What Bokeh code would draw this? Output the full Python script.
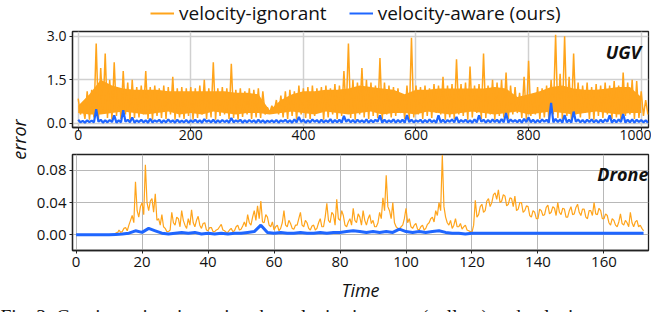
import math
from bokeh.plotting import figure
from bokeh.models import Legend, LegendItem, Range1d, FixedTicker, NumeralTickFormatter, Label
from bokeh.layouts import row, column
from bokeh.embed import file_html
from bokeh.resources import INLINE

ORANGE = "#FFA41B"
BLUE = "#1F66FF"
FONT = "Open Sans"

# ---------------- data ----------------
# UGV, velocity-ignorant: dense band read every 20 time units (top / bottom of the band)
ugv_band_step = 20
ugv_ignorant_band_top = [
    0.6, 1.0, 1.5, 1.3, 1.2, 1.15, 1.15, 1.15, 1.1, 1.1,
    1.1, 1.1, 1.1, 1.1, 1.05, 1.05, 1.0, 0.45, 0.8, 1.0,
    1.1, 1.1, 1.15, 1.15, 1.2, 1.3, 1.25, 1.2, 1.15, 1.0,
    1.15, 1.15, 1.2, 1.2, 1.2, 1.2, 1.2, 1.25, 1.2, 0.9,
    1.0, 1.1, 1.25, 1.3, 1.2, 1.15, 1.15, 1.2, 1.25, 1.25,
    0.9,
]
ugv_ignorant_band_bottom = [
    0.35, 0.3, 0.3, 0.35, 0.4, 0.35, 0.3, 0.35, 0.4, 0.3,
    0.35, 0.3, 0.4, 0.35, 0.3, 0.35, 0.35, 0.3, 0.35, 0.4,
    0.35, 0.3, 0.4, 0.35, 0.3, 0.35, 0.4, 0.3, 0.35, 0.35,
    0.3, 0.4, 0.35, 0.3, 0.35, 0.4, 0.35, 0.3, 0.35, 0.4,
    0.3, 0.35, 0.4, 0.35, 0.3, 0.35, 0.4, 0.35, 0.3, 0.35,
    0.35,
]
# UGV: samples every 8 time units; hi = upper value at t, lo = lower value at t+4
ugv_step = 8
ugv_ignorant_hi = [
    0.85, 0.6, 1.1, 1.15, 2.75, 1.9, 2.4, 1.5, 2.1, 1.2,
    1.8, 1.4, 1.5, 1.25, 1.3, 1.8, 1.25, 1.3, 1.2, 1.3,
    1.25, 1.6, 1.2, 1.25, 1.2, 1.25, 1.2, 1.3, 1.5, 1.2,
    2.1, 1.2, 1.25, 1.2, 2.05, 1.15, 1.2, 1.1, 1.2, 1.15,
    1.2, 1.1, 0.55, 0.6, 0.8, 0.95, 1.1, 1.15, 1.1, 1.3,
    1.2, 1.25, 1.3, 1.2, 1.25, 1.3, 1.2, 1.35, 1.3, 1.8,
    2.75, 1.5, 1.4, 1.9, 1.5, 1.4, 1.3, 2.25, 1.4, 1.3,
    1.25, 1.2, 0.9, 1.3, 2.95, 1.3, 1.25, 1.3, 1.2, 1.35,
    1.3, 1.6, 1.3, 1.35, 2.2, 1.35, 1.4, 1.95, 1.3, 1.35,
    2.4, 1.3, 1.5, 1.4, 1.5, 1.75, 1.3, 1.25, 1.05, 1.6,
    2.15, 1.0, 1.25, 1.2, 1.3, 1.5, 3.05, 1.7, 3.0, 1.6,
    2.4, 1.4, 1.3, 1.4, 1.25, 1.35, 1.3, 1.4, 1.3, 1.45,
    1.3, 1.75, 1.4, 1.5, 1.45, 1.1, 0.8,
]
ugv_ignorant_lo = [
    0.3, 0.15, 0.12, 0.2, 0.15, 0.35, 0.18, 0.12, 0.25, 0.15,
    0.3, 0.12, 0.18, 0.2, 0.3, 0.15, 0.12, 0.25, 0.18, 0.15,
    0.3, 0.12, 0.2, 0.15, 0.25, 0.12, 0.18, 0.3, 0.15, 0.2,
    0.12, 0.25, 0.3, 0.15, 0.18, 0.12, 0.22, 0.3, 0.15, 0.2,
    0.18, 0.3, 0.35, 0.4, 0.3, 0.2, 0.15, 0.25, 0.12, 0.3,
    0.18, 0.15, 0.25, 0.35, 0.12, 0.2, 0.3, 0.15, 0.25, 0.35,
    0.18, 0.12, 0.3, 0.2, 0.15, 0.25, 0.18, 0.12, 0.3, 0.2,
    0.25, 0.35, 0.15, 0.12, 0.2, 0.3, 0.15, 0.25, 0.18, 0.35,
    0.3, 0.12, 0.2, 0.15, 0.3, 0.25, 0.12, 0.2, 0.35, 0.15,
    0.18, 0.3, 0.12, 0.25, 0.2, 0.15, 0.3, 0.35, 0.18, 0.12,
    0.25, 0.3, 0.15, 0.2, 0.12, 0.3, 0.18, 0.15, 0.25, 0.12,
    0.3, 0.2, 0.35, 0.15, 0.12, 0.25, 0.18, 0.3, 0.15, 0.2,
    0.12, 0.25, 0.3, 0.15, 0.18, 0.25, 0.3,
]
ugv_aware_hi = [
    0.12, 0.08, 0.1, 0.09, 0.48, 0.12, 0.1, 0.11, 0.27, 0.1,
    0.45, 0.12, 0.2, 0.1, 0.12, 0.1, 0.15, 0.1, 0.12, 0.1,
    0.13, 0.1, 0.12, 0.09, 0.11, 0.1, 0.12, 0.1, 0.14, 0.1,
    0.12, 0.1, 0.11, 0.1, 0.18, 0.1, 0.12, 0.1, 0.11, 0.1,
    0.12, 0.1, 0.09, 0.1, 0.11, 0.1, 0.12, 0.1, 0.13, 0.22,
    0.12, 0.1, 0.13, 0.11, 0.12, 0.1, 0.14, 0.11, 0.12, 0.25,
    0.13, 0.11, 0.12, 0.1, 0.13, 0.11, 0.12, 0.27, 0.12, 0.1,
    0.13, 0.11, 0.12, 0.28, 0.12, 0.1, 0.12, 0.11, 0.13, 0.1,
    0.27, 0.12, 0.11, 0.13, 0.22, 0.11, 0.12, 0.1, 0.13, 0.27,
    0.12, 0.11, 0.13, 0.12, 0.14, 0.35, 0.13, 0.11, 0.12, 0.15,
    0.2, 0.12, 0.11, 0.13, 0.12, 0.7, 0.15, 0.13, 0.28, 0.12,
    0.4, 0.13, 0.11, 0.12, 0.13, 0.11, 0.12, 0.13, 0.27, 0.12,
    0.13, 0.32, 0.12, 0.13, 0.12, 0.11, 0.1,
]
ugv_aware_lo = [
    0.03, 0.02, 0.04, 0.03, 0.05, 0.02, 0.03, 0.04, 0.02, 0.03,
    0.05, 0.03, 0.02, 0.04, 0.03, 0.02, 0.03, 0.05, 0.02, 0.03,
    0.04, 0.02, 0.03, 0.03, 0.02, 0.04, 0.03, 0.02, 0.05, 0.03,
    0.02, 0.03, 0.04, 0.02, 0.03, 0.05, 0.02, 0.03, 0.04, 0.02,
    0.03, 0.02, 0.04, 0.03, 0.02, 0.05, 0.03, 0.02, 0.03, 0.04,
    0.02, 0.03, 0.05, 0.02, 0.03, 0.04, 0.02, 0.03, 0.02, 0.05,
    0.03, 0.02, 0.04, 0.03, 0.02, 0.03, 0.05, 0.02, 0.03, 0.04,
    0.02, 0.03, 0.02, 0.04, 0.03, 0.05, 0.02, 0.03, 0.04, 0.02,
    0.03, 0.02, 0.05, 0.03, 0.02, 0.04, 0.03, 0.02, 0.03, 0.05,
    0.02, 0.03, 0.04, 0.02, 0.03, 0.02, 0.05, 0.03, 0.02, 0.04,
    0.03, 0.02, 0.03, 0.05, 0.02, 0.03, 0.04, 0.02, 0.03, 0.02,
    0.05, 0.03, 0.02, 0.04, 0.03, 0.02, 0.03, 0.05, 0.02, 0.03,
    0.04, 0.02, 0.03, 0.02, 0.04, 0.03, 0.02,
]

# Drone: velocity-ignorant every 0.5 time units starting at t=12
drone_ign_start = 12
drone_ign_step = 0.5
drone_ignorant = [
    0.003, 0.002, 0.006, 0.003, 0.004, 0.008, 0.009, 0.005, 0.012, 0.018,
    0.024, 0.015, 0.066, 0.03, 0.022, 0.035, 0.04, 0.025, 0.087, 0.04,
    0.03, 0.042, 0.045, 0.028, 0.051, 0.018, 0.02, 0.012, 0.025, 0.01,
    0.008, 0.004, 0.004, 0.006, 0.028, 0.015, 0.012, 0.022, 0.02, 0.01,
    0.03, 0.018, 0.012, 0.008, 0.02, 0.012, 0.031, 0.015, 0.01, 0.018,
    0.023, 0.012, 0.008, 0.014, 0.015, 0.006, 0.005, 0.009, 0.009, 0.004,
    0.004, 0.006, 0.007, 0.01, 0.013, 0.006, 0.005, 0.003, 0.003, 0.006,
    0.008, 0.004, 0.005, 0.01, 0.012, 0.006, 0.007, 0.011, 0.016, 0.01,
    0.025, 0.015, 0.012, 0.022, 0.03, 0.018, 0.036, 0.02, 0.042, 0.016,
    0.015, 0.025, 0.022, 0.012, 0.01, 0.016, 0.006, 0.01, 0.012, 0.005,
    0.008, 0.015, 0.03, 0.012, 0.01, 0.018, 0.014, 0.008, 0.007, 0.012,
    0.012, 0.02, 0.028, 0.012, 0.01, 0.018, 0.015, 0.008, 0.006, 0.011,
    0.012, 0.006, 0.008, 0.015, 0.02, 0.01, 0.01, 0.022, 0.039, 0.018,
    0.015, 0.028, 0.025, 0.012, 0.044, 0.02, 0.018, 0.03, 0.024, 0.012,
    0.01, 0.016, 0.02, 0.012, 0.033, 0.018, 0.015, 0.026, 0.022, 0.012,
    0.03, 0.018, 0.012, 0.02, 0.025, 0.014, 0.018, 0.01, 0.01, 0.015,
    0.028, 0.02, 0.046, 0.03, 0.074, 0.035, 0.03, 0.02, 0.04, 0.015,
    0.01, 0.008, 0.006, 0.01, 0.012, 0.02, 0.033, 0.015, 0.02, 0.01,
    0.008, 0.012, 0.014, 0.007, 0.006, 0.01, 0.012, 0.006, 0.008, 0.013,
    0.015, 0.02, 0.022, 0.016, 0.03, 0.024, 0.04, 0.03, 0.099, 0.035,
    0.022, 0.015, 0.012, 0.018, 0.008, 0.012, 0.02, 0.01, 0.01, 0.014,
    0.007, 0.01, 0.012, 0.006, 0.005, 0.004, 0.003, 0.012, 0.043, 0.022,
    0.025, 0.035, 0.038, 0.028, 0.03, 0.042, 0.045, 0.035, 0.04, 0.05,
    0.052, 0.044, 0.056, 0.04, 0.042, 0.05, 0.048, 0.036, 0.038, 0.046,
    0.045, 0.035, 0.048, 0.03, 0.032, 0.04, 0.04, 0.028, 0.03, 0.036,
    0.035, 0.024, 0.022, 0.03, 0.028, 0.02, 0.02, 0.032, 0.03, 0.024,
    0.025, 0.034, 0.037, 0.026, 0.028, 0.035, 0.033, 0.024, 0.04, 0.028,
    0.025, 0.033, 0.032, 0.022, 0.022, 0.03, 0.035, 0.025, 0.026, 0.034,
    0.038, 0.028, 0.024, 0.032, 0.032, 0.022, 0.02, 0.03, 0.03, 0.024,
    0.04, 0.026, 0.025, 0.033, 0.03, 0.02, 0.02, 0.026, 0.024, 0.015,
    0.012, 0.02, 0.018, 0.012, 0.01, 0.016, 0.026, 0.014, 0.012, 0.018,
    0.015, 0.01, 0.028, 0.015, 0.01, 0.016, 0.018, 0.01, 0.012, 0.008,
    0.005,
]
# Drone: velocity-aware every 2 time units starting at t=0
drone_aw_start = 0
drone_aw_step = 2
drone_aware = [
    0.0, 0.0, 0.0, 0.0, 0.0, 0.0, 0.0005, 0.001, 0.002, 0.005,
    0.003, 0.008, 0.005, 0.002, 0.001, 0.002, 0.003, 0.002, 0.003, 0.001,
    0.002, 0.001, 0.002, 0.001, 0.002, 0.002, 0.003, 0.004, 0.012, 0.003,
    0.002, 0.003, 0.002, 0.002, 0.003, 0.002, 0.002, 0.003, 0.002, 0.003,
    0.003, 0.004, 0.005, 0.004, 0.003, 0.004, 0.003, 0.004, 0.003, 0.007,
    0.004, 0.003, 0.004, 0.003, 0.004, 0.005, 0.003, 0.002, 0.002, 0.001,
    0.002, 0.002, 0.002, 0.002, 0.002, 0.002, 0.002, 0.002, 0.002, 0.002,
    0.002, 0.002, 0.002, 0.002, 0.002, 0.002, 0.002, 0.002, 0.002, 0.002,
    0.002, 0.002, 0.002, 0.002, 0.002, 0.002, 0.002,
]

ugv_xticks = [0, 200, 400, 600, 800, 1000]
ugv_yticks = [0.0, 1.5, 3.0]
drone_xticks = [0, 20, 40, 60, 80, 100, 120, 140, 160]
drone_yticks = [0.0, 0.04, 0.08]
labels = ["velocity-ignorant", "velocity-aware (ours)"]
caption = "Fig. 3:  Gravity estimation using the velocity-ignorant (yellow) and velocity-aware"


def zigzag(hi, lo, step):
    n = min(len(hi), len(lo))
    xs, ys = [], []
    for i in range(n):
        xs += [i * step, i * step + step / 2]
        ys += [hi[i], lo[i]]
    return xs, ys


def bare(p):
    p.outline_line_color = None
    p.xgrid.visible = False
    p.ygrid.visible = False


def style(p, font_size, grid_color, grid_width):
    p.outline_line_color = "#222222"
    p.outline_line_width = 1.3
    p.xgrid.grid_line_color = grid_color
    p.ygrid.grid_line_color = grid_color
    p.xgrid.grid_line_width = grid_width
    p.ygrid.grid_line_width = grid_width
    for ax in (p.xaxis[0], p.yaxis[0]):
        ax.axis_line_color = "#222222"
        ax.axis_line_width = 1.3
        ax.major_tick_line_color = "#222222"
        ax.major_tick_in = 0
        ax.major_tick_out = 3
        ax.minor_tick_line_color = None
        ax.major_label_text_font = FONT
        ax.major_label_text_font_size = font_size
        ax.major_label_text_color = "#111111"
        ax.major_label_standoff = 3


W_LAB = 33
W_PLOT = 618

# ---------------- y label column ----------------
pl = figure(width=W_LAB, height=304, x_range=Range1d(0, 1), y_range=Range1d(0, 1),
            toolbar_location=None, output_backend="svg", min_border=0,
            x_axis_location=None, y_axis_location=None)
bare(pl)
pl.add_layout(Label(x=0.55, y=1 - 139 / 304, text="error", angle=math.pi / 2,
                    text_align="center", text_baseline="middle",
                    text_font=FONT, text_font_style="italic",
                    text_font_size="18px", text_color="#111111"))

# ---------------- legend strip ----------------
pleg = figure(width=W_PLOT, height=26, x_range=Range1d(0, 1), y_range=Range1d(0, 1),
              toolbar_location=None, output_backend="svg", min_border=0,
              x_axis_location=None, y_axis_location=None)
bare(pleg)
leg_o = pleg.line([float("nan")], [float("nan")], color=ORANGE, line_width=2)
leg_b = pleg.line([float("nan")], [float("nan")], color=BLUE, line_width=2)
legend = Legend(items=[LegendItem(label=labels[0], renderers=[leg_o]),
                       LegendItem(label=labels[1], renderers=[leg_b])],
                orientation="horizontal", location=(78, 0),
                label_text_font=FONT, label_text_font_size="19px",
                label_text_color="#111111", label_height=18,
                glyph_width=24, glyph_height=18, label_standoff=5, spacing=22,
                padding=0, margin=0, border_line_color=None,
                background_fill_alpha=0)
pleg.add_layout(legend, "center")

# ---------------- UGV panel ----------------
p1 = figure(width=W_PLOT, height=122, toolbar_location=None, output_backend="svg",
            x_range=Range1d(-10.1, 1013), y_range=Range1d(-0.148, 3.162),
            min_border_left=38, min_border_right=3, min_border_top=5,
            min_border_bottom=21)
bx = [i * ugv_band_step for i in range(min(len(ugv_ignorant_band_top), len(ugv_ignorant_band_bottom)))]
p1.varea(x=bx, y1=ugv_ignorant_band_bottom[:len(bx)], y2=ugv_ignorant_band_top[:len(bx)],
         fill_color=ORANGE)
xo, yo = zigzag(ugv_ignorant_hi, ugv_ignorant_lo, ugv_step)
xb, yb = zigzag(ugv_aware_hi, ugv_aware_lo, ugv_step)
p1.line(xo, yo, color=ORANGE, line_width=1.5, line_join="bevel")
p1.line(xb, yb, color=BLUE, line_width=2.2, line_join="bevel")
style(p1, "14px", "#d0d0d0", 1.5)
p1.xaxis.ticker = FixedTicker(ticks=ugv_xticks)
p1.yaxis.ticker = FixedTicker(ticks=ugv_yticks)
p1.yaxis.formatter = NumeralTickFormatter(format="0.0")
p1.xaxis.major_label_standoff = -1
p1.add_layout(Label(x=1000, y=2.88, text="UGV", text_align="right", text_baseline="top",
                    text_font=FONT, text_font_style="bold italic",
                    text_font_size="18px", text_color="#111111"))

# ---------------- Drone panel ----------------
p2 = figure(width=W_PLOT, height=156, toolbar_location=None, output_backend="svg",
            x_range=Range1d(-1.09, 173.5), y_range=Range1d(-0.0195, 0.0998),
            min_border_left=38, min_border_right=3, min_border_top=6,
            min_border_bottom=54)
xd = [drone_ign_start + i * drone_ign_step for i in range(len(drone_ignorant))]
xa = [drone_aw_start + i * drone_aw_step for i in range(len(drone_aware))]
p2.line(xd, drone_ignorant, color=ORANGE, line_width=1.2)
p2.line(xa, drone_aware, color=BLUE, line_width=3)
style(p2, "15px", "#b8b8b8", 1.0)
p2.xaxis.ticker = FixedTicker(ticks=drone_xticks)
p2.yaxis.ticker = FixedTicker(ticks=drone_yticks)
p2.yaxis.formatter = NumeralTickFormatter(format="0.00")
p2.xaxis.axis_label = "Time"
p2.xaxis.axis_label_text_font = FONT
p2.xaxis.axis_label_text_font_style = "italic"
p2.xaxis.axis_label_text_font_size = "18px"
p2.xaxis.axis_label_text_color = "#111111"
p2.xaxis.axis_label_standoff = 8
p2.add_layout(Label(x=173.5, y=0.090, text="Drone", text_align="right", text_baseline="top",
                    text_font=FONT, text_font_style="bold italic",
                    text_font_size="18px", text_color="#111111"))

# ---------------- caption strip (cut off at the bottom, as in the reference) ----------------
pcap = figure(width=W_LAB + W_PLOT, height=8, x_range=Range1d(0, 1), y_range=Range1d(0, 1),
              toolbar_location=None, output_backend="svg", min_border=0,
              x_axis_location=None, y_axis_location=None)
bare(pcap)
pcap.add_layout(Label(x=0, y=11, x_units="screen", y_units="screen", text=caption,
                      text_align="left", text_baseline="top",
                      text_font="Liberation Serif", text_font_size="19.5px",
                      text_color="#111111"))

layout = column(row(pl, column(pleg, p1, p2, spacing=0), spacing=0), pcap, spacing=0)
open("out.html", "w").write(file_html(layout, INLINE))
